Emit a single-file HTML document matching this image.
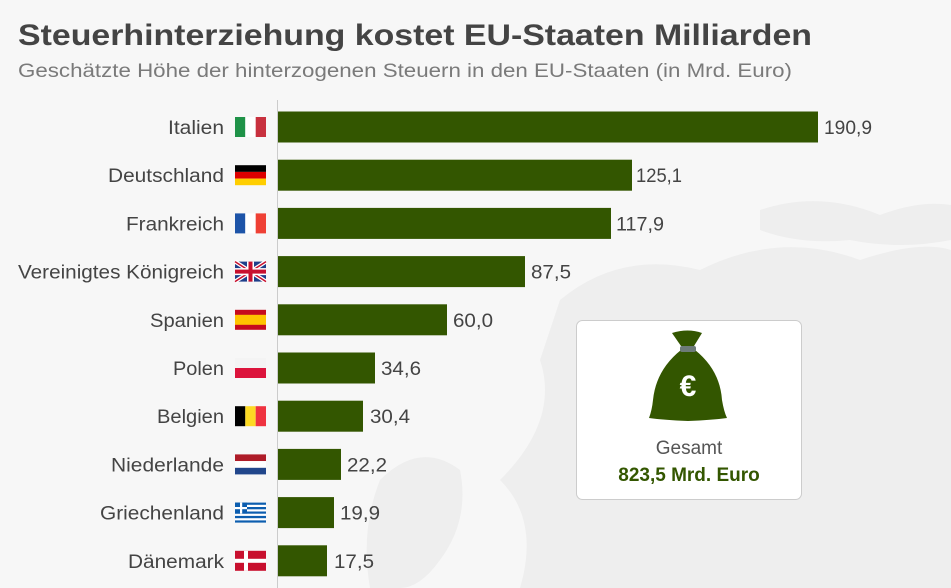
<!DOCTYPE html>
<html><head><meta charset="utf-8"><style>
html,body{margin:0;padding:0;background:#f7f7f7;}
svg{display:block;font-family:"Liberation Sans",sans-serif;}
</style></head><body>
<svg width="951" height="588" viewBox="0 0 951 588" xmlns="http://www.w3.org/2000/svg">
<rect width="951" height="588" fill="#f7f7f7"/>
<g fill="#eeeeee">
<path d="M560 300 Q620 250 700 270 Q780 230 860 260 Q920 240 951 250 L951 588 L520 588 Q540 520 500 480 Q560 420 540 360 Z"/>
<path d="M760 210 Q820 190 880 215 Q920 200 951 205 L951 240 Q900 250 850 240 Q800 245 760 230 Z"/>
<path d="M380 480 Q420 440 460 470 Q470 520 440 560 Q420 588 400 588 L370 588 Q360 530 380 480 Z"/>
</g>
<text x="18" y="45" font-size="30" font-weight="bold" fill="#444" textLength="794" lengthAdjust="spacingAndGlyphs">Steuerhinterziehung kostet EU-Staaten Milliarden</text>
<text x="18" y="77" font-size="19" fill="#7a7a7a" textLength="774" lengthAdjust="spacingAndGlyphs">Geschätzte Höhe der hinterzogenen Steuern in den EU-Staaten (in Mrd. Euro)</text>
<line x1="277.5" y1="100" x2="277.5" y2="588" stroke="#ccc" stroke-width="1"/>
<g font-size="19" fill="#444">
<g transform="translate(0,127)"><text x="224" y="7" text-anchor="end" textLength="56" lengthAdjust="spacingAndGlyphs">Italien</text><rect x="278" y="-15.5" width="540" height="31" fill="#335600"/><text x="824" y="7" textLength="48" lengthAdjust="spacingAndGlyphs">190,9</text>
<rect x="235" y="-10" width="10.3" height="20" fill="#1f9248"/><rect x="245.3" y="-10" width="10.4" height="20" fill="#fff"/><rect x="255.7" y="-10" width="10.3" height="20" fill="#c8313e"/></g>
<g transform="translate(0,175.2)"><text x="224" y="7" text-anchor="end" textLength="116" lengthAdjust="spacingAndGlyphs">Deutschland</text><rect x="278" y="-15.5" width="354" height="31" fill="#335600"/><text x="636" y="7" textLength="46" lengthAdjust="spacingAndGlyphs">125,1</text>
<rect x="235" y="-10" width="31" height="6.7" fill="#000"/><rect x="235" y="-3.3" width="31" height="6.7" fill="#dd0000"/><rect x="235" y="3.4" width="31" height="6.6" fill="#ffce00"/></g>
<g transform="translate(0,223.4)"><text x="224" y="7" text-anchor="end" textLength="98" lengthAdjust="spacingAndGlyphs">Frankreich</text><rect x="278" y="-15.5" width="333" height="31" fill="#335600"/><text x="616" y="7" textLength="48" lengthAdjust="spacingAndGlyphs">117,9</text>
<rect x="235" y="-10" width="10.3" height="20" fill="#1d54a8"/><rect x="245.3" y="-10" width="10.4" height="20" fill="#fff"/><rect x="255.7" y="-10" width="10.3" height="20" fill="#ef4135"/></g>
<g transform="translate(0,271.6)"><text x="224" y="7" text-anchor="end" textLength="206" lengthAdjust="spacingAndGlyphs">Vereinigtes Königreich</text><rect x="278" y="-15.5" width="247" height="31" fill="#335600"/><text x="531" y="7" textLength="40" lengthAdjust="spacingAndGlyphs">87,5</text>
<rect x="235" y="-10" width="31" height="20" fill="#1f3f8a"/><path d="M235 -10 L266 10 M266 -10 L235 10" stroke="#fff" stroke-width="4"/><path d="M235 -10 L266 10 M266 -10 L235 10" stroke="#c8102e" stroke-width="1.5"/><rect x="247" y="-10" width="7" height="20" fill="#fff"/><rect x="235" y="-3.5" width="31" height="7" fill="#fff"/><rect x="248.5" y="-10" width="4" height="20" fill="#c8102e"/><rect x="235" y="-2" width="31" height="4" fill="#c8102e"/></g>
<g transform="translate(0,319.8)"><text x="224" y="7" text-anchor="end" textLength="74" lengthAdjust="spacingAndGlyphs">Spanien</text><rect x="278" y="-15.5" width="169" height="31" fill="#335600"/><text x="453" y="7" textLength="40" lengthAdjust="spacingAndGlyphs">60,0</text>
<rect x="235" y="-10" width="31" height="20" fill="#c60b1e"/><rect x="235" y="-5" width="31" height="10" fill="#ffc400"/></g>
<g transform="translate(0,368)"><text x="224" y="7" text-anchor="end" textLength="51" lengthAdjust="spacingAndGlyphs">Polen</text><rect x="278" y="-15.5" width="97" height="31" fill="#335600"/><text x="381" y="7" textLength="40" lengthAdjust="spacingAndGlyphs">34,6</text>
<rect x="235" y="-10" width="31" height="10" fill="#f4f4f4"/><rect x="235" y="0" width="31" height="10" fill="#dc143c"/></g>
<g transform="translate(0,416.2)"><text x="224" y="7" text-anchor="end" textLength="67" lengthAdjust="spacingAndGlyphs">Belgien</text><rect x="278" y="-15.5" width="85" height="31" fill="#335600"/><text x="370" y="7" textLength="40" lengthAdjust="spacingAndGlyphs">30,4</text>
<rect x="235" y="-10" width="10.3" height="20" fill="#000"/><rect x="245.3" y="-10" width="10.4" height="20" fill="#fdda24"/><rect x="255.7" y="-10" width="10.3" height="20" fill="#ef3340"/></g>
<g transform="translate(0,464.4)"><text x="224" y="7" text-anchor="end" textLength="113" lengthAdjust="spacingAndGlyphs">Niederlande</text><rect x="278" y="-15.5" width="63" height="31" fill="#335600"/><text x="347" y="7" textLength="40" lengthAdjust="spacingAndGlyphs">22,2</text>
<rect x="235" y="-10" width="31" height="6.7" fill="#ae1c28"/><rect x="235" y="-3.3" width="31" height="6.7" fill="#fff"/><rect x="235" y="3.4" width="31" height="6.6" fill="#21468b"/></g>
<g transform="translate(0,512.6)"><text x="224" y="7" text-anchor="end" textLength="124" lengthAdjust="spacingAndGlyphs">Griechenland</text><rect x="278" y="-15.5" width="56" height="31" fill="#335600"/><text x="340" y="7" textLength="40" lengthAdjust="spacingAndGlyphs">19,9</text>
<rect x="235" y="-10" width="31" height="20" fill="#0d5eaf"/><g fill="#fff"><rect x="235" y="-7.8" width="31" height="2.2"/><rect x="235" y="-3.3" width="31" height="2.2"/><rect x="235" y="1.1" width="31" height="2.2"/><rect x="235" y="5.6" width="31" height="2.2"/></g><rect x="235" y="-10" width="12" height="11" fill="#0d5eaf"/><rect x="240" y="-10" width="2.2" height="11" fill="#fff"/><rect x="235" y="-5.6" width="12" height="2.2" fill="#fff"/></g>
<g transform="translate(0,560.8)"><text x="224" y="7" text-anchor="end" textLength="96" lengthAdjust="spacingAndGlyphs">Dänemark</text><rect x="278" y="-15.5" width="49" height="31" fill="#335600"/><text x="334" y="7" textLength="40" lengthAdjust="spacingAndGlyphs">17,5</text>
<rect x="235" y="-10" width="31" height="20" fill="#c8102e"/><rect x="244" y="-10" width="4" height="20" fill="#fff"/><rect x="235" y="-2" width="31" height="4" fill="#fff"/></g>
</g>
<rect x="576.5" y="320.5" width="225" height="179" rx="6" fill="#fff" stroke="#ccc"/>
<g fill="#335600">
<path d="M672 333 Q688 328 702 333 L694 346 L681 346 Z"/>
<path d="M681 350 L695 350 Q720 370 722 400 Q724 412 727 418 Q712 420 688 421 Q664 420 649 418 Q652 410 653 400 Q656 370 681 350 Z"/>
</g>
<rect x="680" y="346" width="16" height="6" rx="2" fill="#6d7b78"/>
<text x="688" y="396" text-anchor="middle" font-size="30" font-weight="bold" fill="#fff">€</text>
<text x="689" y="454" text-anchor="middle" font-size="19" fill="#555">Gesamt</text>
<text x="689" y="481" text-anchor="middle" font-size="19" font-weight="bold" fill="#335600">823,5 Mrd. Euro</text>
</svg>
</body></html>
